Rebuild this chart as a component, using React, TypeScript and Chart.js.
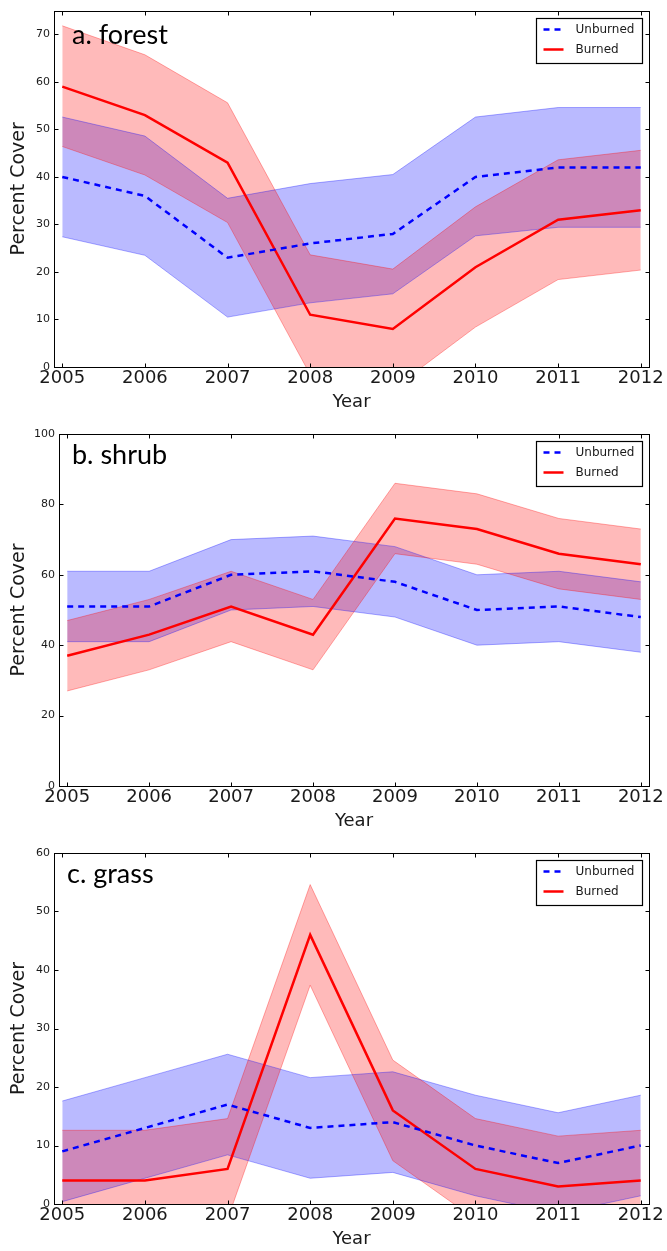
import React, { useEffect, useRef } from "react";
import { Chart, registerables } from "chart.js";

Chart.register(...registerables);

// ---------- data ----------
const years = [2005, 2006, 2007, 2008, 2009, 2010, 2011, 2012];

const forestUnburned = [40, 36, 23, 26, 28, 40, 42, 42];
const forestUnburnedUpper = [52.6, 48.6, 35.5, 38.6, 40.5, 52.6, 54.6, 54.6];
const forestUnburnedLower = [27.4, 23.5, 10.5, 13.5, 15.4, 27.6, 29.4, 29.4];
const forestBurned = [59, 53, 43, 11, 8, 21, 31, 33];
const forestBurnedUpper = [71.8, 65.7, 55.6, 23.6, 20.6, 33.7, 43.6, 45.6];
const forestBurnedLower = [46.4, 40.4, 30.4, -1.6, -4.6, 8.4, 18.4, 20.4];

const shrubUnburned = [51, 51, 60, 61, 58, 50, 51, 48];
const shrubUnburnedUpper = [61, 61, 70, 71, 68, 60, 61, 58];
const shrubUnburnedLower = [41, 41, 50, 51, 48, 40, 41, 38];
const shrubBurned = [37, 43, 51, 43, 76, 73, 66, 63];
const shrubBurnedUpper = [47, 53, 61, 53, 86, 83, 76, 73];
const shrubBurnedLower = [27, 33, 41, 33, 66, 63, 56, 53];

const grassUnburned = [9, 13, 17, 13, 14, 10, 7, 10];
const grassUnburnedUpper = [17.6, 21.6, 25.6, 21.6, 22.6, 18.6, 15.6, 18.6];
const grassUnburnedLower = [0.4, 4.4, 8.4, 4.4, 5.4, 1.4, -1.6, 1.4];
const grassBurned = [4, 4, 6, 46, 16, 6, 3, 4];
const grassBurnedUpper = [12.6, 12.6, 14.6, 54.6, 24.6, 14.6, 11.6, 12.6];
const grassBurnedLower = [-4.6, -4.6, -2.6, 37.4, 7.4, -2.6, -5.6, -4.6];

const forestYTicks = [0, 10, 20, 30, 40, 50, 60, 70];
const shrubYTicks = [0, 20, 40, 60, 80, 100];
const grassYTicks = [0, 10, 20, 30, 40, 50, 60];

const seriesNames = ["Unburned", "Burned"];
const panelLabels = ["a. forest", "b. shrub", "c. grass"];
const xTitle = "Year";
const yTitle = "Percent Cover";

// ---------- styling / layout ----------
const TEXT = "#1a1a1a";
const BLUE = "#0000ff";
const RED = "#ff0000";
const BLUE_FILL = "rgba(0,0,255,0.27)";
const RED_FILL = "rgba(255,0,0,0.27)";
const BLUE_EDGE = "rgba(0,0,255,0.32)";
const RED_EDGE = "rgba(255,0,0,0.32)";

type PanelCfg = {
  label: string;
  unb: number[];
  unbU: number[];
  unbL: number[];
  bur: number[];
  burU: number[];
  burL: number[];
  yTicks: number[];
  yMax: number;
  canvasTop: number;
  canvasH: number;
  padTop: number;
  yWidth: number;
  labelX: number;
  labelY: number;
};

const panels: PanelCfg[] = [
  {
    label: panelLabels[0],
    unb: forestUnburned, unbU: forestUnburnedUpper, unbL: forestUnburnedLower,
    bur: forestBurned, burU: forestBurnedUpper, burL: forestBurnedLower,
    yTicks: forestYTicks, yMax: 75,
    canvasTop: 0, canvasH: 414, padTop: 9, yWidth: 54, labelX: 72, labelY: 44,
  },
  {
    label: panelLabels[1],
    unb: shrubUnburned, unbU: shrubUnburnedUpper, unbL: shrubUnburnedLower,
    bur: shrubBurned, burU: shrubBurnedUpper, burL: shrubBurnedLower,
    yTicks: shrubYTicks, yMax: 100,
    canvasTop: 420, canvasH: 413, padTop: 14, yWidth: 59, labelX: 72, labelY: 44,
  },
  {
    label: panelLabels[2],
    unb: grassUnburned, unbU: grassUnburnedUpper, unbL: grassUnburnedLower,
    bur: grassBurned, burU: grassBurnedUpper, burL: grassBurnedLower,
    yTicks: grassYTicks, yMax: 60,
    canvasTop: 840, canvasH: 411, padTop: 13, yWidth: 54, labelX: 67, labelY: 43,
  },
];

const decorPlugin = {
  id: "decor",
  afterDraw(chart: any, _args: any, opts: any) {
    const { ctx, chartArea: a, scales } = chart;
    ctx.save();
    const L = Math.round(a.left) + 0.5;
    const R = Math.round(a.right) + 0.5;
    const T = Math.round(a.top) + 0.5;
    const B = Math.round(a.bottom) + 0.5;
    ctx.strokeStyle = "#000";
    ctx.lineWidth = 1;
    ctx.strokeRect(L, T, R - L, B - T);
    const tick = 4;
    ctx.beginPath();
    scales.x.ticks.forEach((t: any) => {
      const px = Math.round(scales.x.getPixelForValue(t.value)) + 0.5;
      ctx.moveTo(px, B); ctx.lineTo(px, B - tick);
      ctx.moveTo(px, T); ctx.lineTo(px, T + tick);
    });
    scales.y.ticks.forEach((t: any) => {
      const py = Math.round(scales.y.getPixelForValue(t.value)) + 0.5;
      ctx.moveTo(L, py); ctx.lineTo(L + tick, py);
      ctx.moveTo(R, py); ctx.lineTo(R - tick, py);
    });
    ctx.stroke();

    // panel label
    ctx.fillStyle = "#000";
    ctx.font = "27px Lato";
    ctx.textAlign = "left";
    ctx.textBaseline = "alphabetic";
    ctx.fillText(opts.label, opts.labelX, opts.labelY);

    // legend
    const bw = 106, bh = 45;
    const bx = Math.round(a.right - 7 - bw) + 0.5;
    const by = Math.round(a.top + 7) + 0.5;
    ctx.fillStyle = "#fff";
    ctx.fillRect(bx, by, bw, bh);
    ctx.strokeStyle = "#000";
    ctx.lineWidth = 1.2;
    ctx.strokeRect(bx, by, bw, bh);
    const rows = [
      { name: seriesNames[0], color: BLUE, dash: [6, 5] },
      { name: seriesNames[1], color: RED, dash: [] as number[] },
    ];
    rows.forEach((r, i) => {
      const y = by + 11 + i * 20;
      ctx.beginPath();
      ctx.setLineDash(r.dash);
      ctx.strokeStyle = r.color;
      ctx.lineWidth = 2.5;
      ctx.moveTo(bx + 7, y);
      ctx.lineTo(bx + 27, y);
      ctx.stroke();
      ctx.setLineDash([]);
      ctx.fillStyle = TEXT;
      ctx.font = "12px 'DejaVu Sans'";
      ctx.textBaseline = "middle";
      ctx.fillText(r.name, bx + 39, y);
    });
    ctx.restore();
  },
};

function makeConfig(p: PanelCfg): any {
  const pts = (arr: number[]) => years.map((x, i) => ({ x, y: arr[i] }));
  const base = { pointRadius: 0, pointHoverRadius: 0, tension: 0, clip: 0 };
  return {
    type: "line",
    data: {
      datasets: [
        { ...base, label: seriesNames[0], data: pts(p.unb), borderColor: BLUE, borderWidth: 2.5, borderDash: [6, 5], fill: false },
        { ...base, label: seriesNames[1], data: pts(p.bur), borderColor: RED, borderWidth: 2.5, fill: false },
        { ...base, label: "b-hi", data: pts(p.burU), borderColor: RED_EDGE, borderWidth: 1, fill: false },
        { ...base, label: "b-lo", data: pts(p.burL), borderColor: RED_EDGE, borderWidth: 1, fill: "-1", backgroundColor: RED_FILL },
        { ...base, label: "u-hi", data: pts(p.unbU), borderColor: BLUE_EDGE, borderWidth: 1, fill: false },
        { ...base, label: "u-lo", data: pts(p.unbL), borderColor: BLUE_EDGE, borderWidth: 1, fill: "-1", backgroundColor: BLUE_FILL },
      ],
    },
    options: {
      animation: false,
      responsive: false,
      maintainAspectRatio: false,
      devicePixelRatio: 1,
      layout: { autoPadding: false, padding: { top: p.padTop, right: 18, left: 0, bottom: 0 } },
      plugins: {
        legend: { display: false },
        tooltip: { enabled: false },
        filler: { propagate: false, drawTime: "beforeDatasetsDraw" },
        decor: { label: p.label, labelX: p.labelX, labelY: p.labelY },
      },
      scales: {
        x: {
          type: "linear",
          min: 2004.9,
          max: 2012.1,
          afterBuildTicks: (s: any) => { s.ticks = years.map((v) => ({ value: v })); },
          afterFit: (s: any) => { s.height = 47; },
          grid: { display: false, drawTicks: false },
          border: { display: false },
          ticks: {
            autoSkip: false, maxRotation: 0, minRotation: 0, padding: 1,
            color: TEXT, font: { family: "'DejaVu Sans'", size: 18 },
            callback: (v: any) => String(v),
          },
          title: {
            display: true, text: xTitle, color: TEXT,
            font: { family: "'DejaVu Sans'", size: 18 },
            padding: { top: 0, bottom: 1 },
          },
        },
        y: {
          type: "linear",
          min: 0,
          max: p.yMax,
          afterBuildTicks: (s: any) => { s.ticks = p.yTicks.map((v) => ({ value: v })); },
          afterFit: (s: any) => { s.width = p.yWidth; },
          grid: { display: false, drawTicks: false },
          border: { display: false },
          ticks: {
            padding: 4, color: TEXT,
            font: { family: "'DejaVu Sans'", size: 11 },
            callback: (v: any) => String(v),
          },
          title: {
            display: true, text: yTitle, color: TEXT,
            font: { family: "'DejaVu Sans'", size: 19 },
            padding: { top: 7.6, bottom: 0 },
          },
        },
      },
    },
    plugins: [decorPlugin],
  };
}

function Panel({ p }: { p: PanelCfg }) {
  const ref = useRef<HTMLCanvasElement>(null);
  useEffect(() => {
    const chart = new Chart(ref.current as HTMLCanvasElement, makeConfig(p));
    return () => chart.destroy();
  }, [p]);
  return (
    <canvas
      ref={ref}
      width={667}
      height={p.canvasH}
      style={{ position: "absolute", left: 0, top: p.canvasTop, width: 667, height: p.canvasH, display: "block" }}
    />
  );
}

export default function App() {
  return (
    <div style={{ position: "fixed", left: 0, top: 0, width: 667, height: 1251, overflow: "hidden", background: "#fff" }}>
      {panels.map((p) => (
        <Panel key={p.label} p={p} />
      ))}
    </div>
  );
}
